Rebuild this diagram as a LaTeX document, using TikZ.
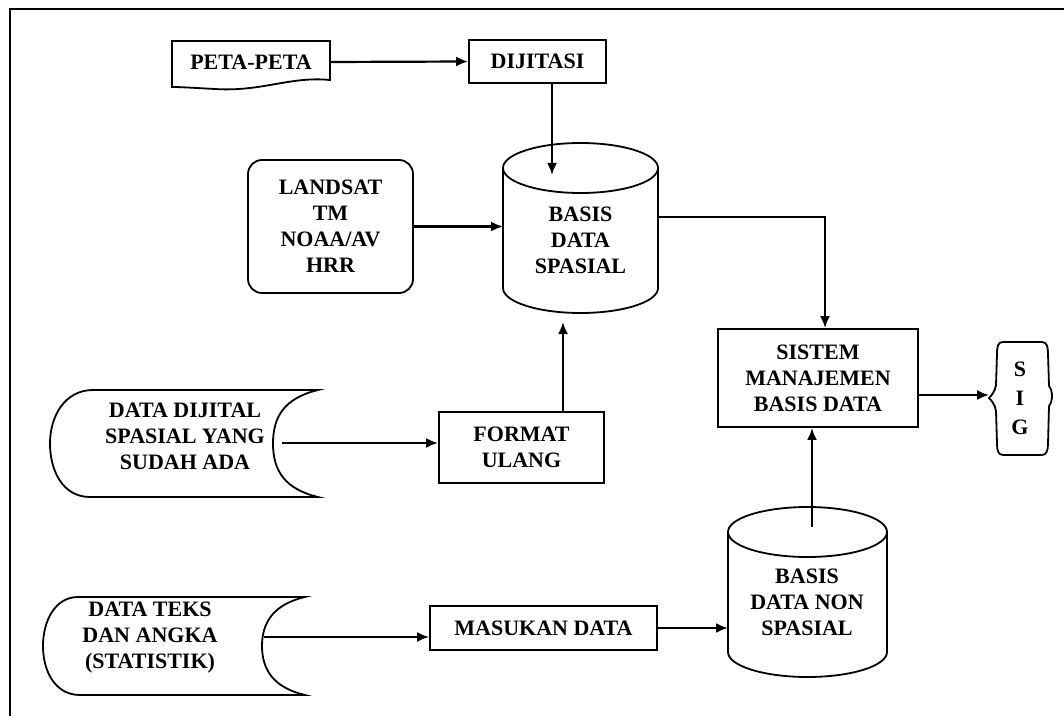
\documentclass[tikz,border=0pt]{standalone}
\usepackage{fontspec}
\setmainfont{Liberation Serif}
\usetikzlibrary{arrows.meta}
\begin{document}
\begin{tikzpicture}[x=1pt,y=1pt,
  lbl/.style={inner sep=0pt, align=center, font=\bfseries\fontsize{22}{26}\selectfont},
  box/.style={lbl, draw, line width=1.8pt},
  outline/.style={draw, line width=1.8pt},
  arr/.style={-{Latex[length=12pt,width=10pt]}, line width=2.2pt}]
\useasboundingbox (0,0) rectangle (1064,716);
% frame
\draw[line width=1.6pt] (10,0) -- (10,707) -- (1064,707);

% PETA-PETA (document shape)
\node[lbl, minimum width=158pt, minimum height=42pt] (peta) at (251,654) {PETA-PETA};
\draw[outline] (172,675) -- (330,675) -- (330,636)
  .. controls (290,640) and (262,624) .. (215,627)
  .. controls (195,628) and (182,629) .. (172,629) -- cycle;

% DIJITASI
\node[box, minimum width=137pt, minimum height=43pt] (dij) at (537.5,654.5) {DIJITASI};

% LANDSAT
\node[box, rounded corners=14pt, minimum width=165pt, minimum height=133pt] (land) at (330.5,489.5) {LANDSAT\\TM\\NOAA/AV\\HRR};

% cylinder 1
\node[lbl] (bds) at (580.5,476) {BASIS\\DATA\\SPASIAL};
\draw[outline] (503,548) -- (503,428) arc[start angle=180,end angle=360,x radius=77.5pt,y radius=25pt] -- (658,548);
\draw[outline] (580.5,548) ellipse [x radius=77.5pt, y radius=25pt];
\coordinate (c1in) at (552,541);
\coordinate (c1l) at (503,489.5);
\coordinate (c1r) at (658,499);
\coordinate (c1b) at (563,394);

% SISTEM
\node[box, minimum width=200pt, minimum height=98pt] (sis) at (818,338) {SISTEM\\MANAJEMEN\\BASIS DATA};

% SIG
\node[lbl, minimum width=64pt, minimum height=113pt] (sig) at (1020,317.5) {S\\[3pt]I\\[3pt]G};
\draw[outline] (1003,374) -- (1042,374) .. controls (1047,374) and (1048,369) .. (1048,362)
  -- (1049,330) .. controls (1053,325) and (1053,315) .. (1049,310)
  -- (1048,272) .. controls (1048,265) and (1046,261) .. (1042,261)
  -- (1003,261) .. controls (998,261) and (997,266) .. (997,272)
  -- (996,305) .. controls (995,312) and (991,316) .. (989,318)
  .. controls (991,320) and (995,324) .. (996,331)
  -- (997,362) .. controls (997,370) and (998,374) .. (1003,374) -- cycle;
\coordinate (sigin) at (989,321);

% FORMAT ULANG
\node[box, minimum width=165pt, minimum height=71pt] (fmt) at (521.5,268.5) {FORMAT\\ULANG};

% DATA DIJITAL (stored data shape)
\node[lbl] (dd) at (185,280) {DATA DIJITAL\\SPASIAL YANG\\SUDAH ADA};
\draw[outline] (93,326) -- (318,326)
  .. controls (285,318) and (273,300) .. (273,272.5)
  .. controls (273,245) and (285,227) .. (318,219)
  -- (90,219) .. controls (63,219) and (50,245) .. (50,272.5)
  .. controls (50,300) and (65,326) .. (93,326) -- cycle;
\coordinate (ddout) at (282,273);

% DATA TEKS (stored data shape)
\node[lbl] (teks) at (150,78) {DATA TEKS\\DAN ANGKA\\(STATISTIK)};
\draw[outline] (78,119) -- (305,119)
  .. controls (275,112) and (262,95) .. (262,70)
  .. controls (262,45) and (275,28) .. (305,21)
  -- (80,21) .. controls (55,21) and (43,45) .. (43,70)
  .. controls (43,95) and (55,119) .. (78,119) -- cycle;
\coordinate (teksout) at (264,79);

% MASUKAN DATA
\node[box, minimum width=227pt, minimum height=44pt] (mas) at (543.5,88) {MASUKAN DATA};

% cylinder 2
\node[lbl] (bdn) at (807,114) {BASIS\\DATA NON\\SPASIAL};
\draw[outline] (728,184) -- (728,64) arc[start angle=180,end angle=360,x radius=79.5pt,y radius=25pt] -- (887,184);
\draw[outline] (807.5,184) ellipse [x radius=79.5pt, y radius=25pt];
\coordinate (c2l) at (728,88);
\coordinate (c2top) at (812,189);

% connectors
\draw[arr] (peta.east) -- (dij.west);
\draw[arr] (dij.south -| c1in) -- (c1in);
\draw[arr] (land.east) -- (c1l);
\draw[arr] (c1r) -| ([xshift=7pt]sis.north);
\draw[arr] (sis.east |- sigin) -- (sigin);
\draw[arr] (ddout) -- (ddout -| fmt.west);
\draw[arr] (fmt.north -| c1b) -- (c1b);
\draw[arr] (teksout) -- (teksout -| mas.west);
\draw[arr] (mas.east) -- (c2l);
\draw[arr] (c2top) -- (c2top |- sis.south);
\end{tikzpicture}
\end{document}
